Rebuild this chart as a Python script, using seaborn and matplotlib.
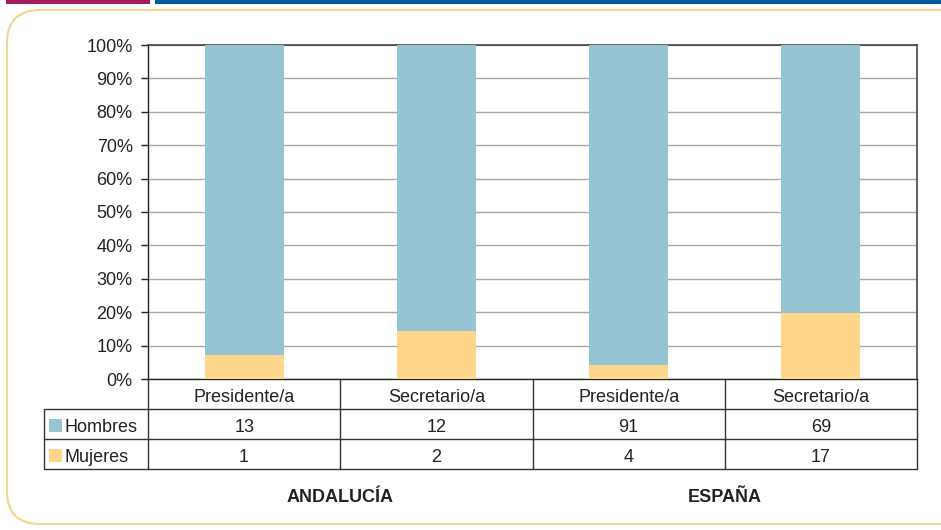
import numpy as np
import pandas as pd
import matplotlib
matplotlib.use("Agg")
import matplotlib.pyplot as plt
import seaborn as sns
from matplotlib.patches import Rectangle, FancyBboxPatch

# datos: numero de personas por puesto
puestos = ["Presidente/a", "Secretario/a", "Presidente/a", "Secretario/a"]
regiones = ["ANDALUCÍA", "ANDALUCÍA", "ESPAÑA", "ESPAÑA"]
hombres = [13, 12, 91, 69]
mujeres = [1, 2, 4, 17]

col_hombres = "#96C4D3"
col_mujeres = "#FED68C"
txt_col = "#222222"
FS = 13

sns.set_theme(style="white")
plt.rcParams["font.family"] = ["Liberation Sans", "DejaVu Sans"]

df = pd.DataFrame({"puesto": puestos, "region": regiones,
                   "hombres": hombres, "mujeres": mujeres})
df["key"] = df["region"] + " " + df["puesto"]
df["total"] = df["hombres"] + df["mujeres"]
df["pct_h"] = 100 * df["hombres"] / df["total"]
df["pct_m"] = 100 * df["mujeres"] / df["total"]
df["pct_tot"] = df["pct_h"] + df["pct_m"]

W, H = 941, 530
L, R, T, B = 148, 917, 45, 379
fig = plt.figure(figsize=(W/100, H/100), dpi=100)
ax = fig.add_axes([L/W, (H-B)/H, (R-L)/W, (B-T)/H])

# barras apiladas al 100%: total en azul, mujeres delante
sns.barplot(data=df, x="key", y="pct_tot", color=col_hombres, width=0.41,
            saturation=1, linewidth=0, ax=ax, zorder=3)
sns.barplot(data=df, x="key", y="pct_m", color=col_mujeres, width=0.41,
            saturation=1, linewidth=0, ax=ax, zorder=4)

ax.set_ylim(0, 100)
ax.set_xlim(-0.5, 3.5)
ax.set_yticks(np.arange(0, 101, 10))
ax.set_yticklabels([f"{v}%" for v in range(0, 101, 10)], fontsize=FS, color=txt_col)
ax.set_xticks([])
ax.set_xlabel("")
ax.set_ylabel("")
ax.yaxis.grid(True, color="#A8A8A8", linewidth=1)
ax.set_axisbelow(True)
ax.tick_params(axis="y", which="both", left=True, length=5, width=1, color=txt_col, pad=6)
for s in ["left", "bottom"]:
    ax.spines[s].set_color(txt_col)
    ax.spines[s].set_linewidth(1)
for s in ["top", "right"]:
    ax.spines[s].set_color("#444444")
    ax.spines[s].set_linewidth(1.2)

# tabla de datos bajo el grafico (pixeles -> coordenadas de ejes)
def ax_x(px):
    return (px - L) / (R - L)

def ax_y(py):
    return (B - py) / (B - T)

line_kw = dict(transform=ax.transAxes, color="#333333", linewidth=1, clip_on=False)
col_edges = [L + (R - L) * i / 4 for i in range(5)]
for xe in col_edges:
    ax.plot([ax_x(xe), ax_x(xe)], [ax_y(379), ax_y(469)], **line_kw)
ax.plot([ax_x(44), ax_x(44)], [ax_y(409), ax_y(469)], **line_kw)
for ye in [409, 439, 469]:
    ax.plot([ax_x(44), ax_x(R)], [ax_y(ye), ax_y(ye)], **line_kw)

txt_kw = dict(transform=ax.transAxes, va="center_baseline", fontsize=FS, color=txt_col)
centers = [(col_edges[i] + col_edges[i + 1]) / 2 for i in range(4)]
for i, cx in enumerate(centers):
    ax.text(ax_x(cx), ax_y(395), puestos[i], ha="center", **txt_kw)
    ax.text(ax_x(cx), ax_y(425), str(hombres[i]), ha="center", **txt_kw)
    ax.text(ax_x(cx), ax_y(455), str(mujeres[i]), ha="center", **txt_kw)

for i, (lab, colr) in enumerate([("Hombres", col_hombres), ("Mujeres", col_mujeres)]):
    yc = 425 + 30 * i
    ax.add_patch(Rectangle((ax_x(49), ax_y(yc + 6.5)), 13/(R - L), 13/(B - T),
                           transform=ax.transAxes, facecolor=colr, edgecolor="none",
                           clip_on=False, zorder=5))
    ax.text(ax_x(65), ax_y(yc), lab, ha="left", **txt_kw)

# etiquetas de region
fig.text(340/W, (H-495)/H, "ANDALUCÍA", ha="center", va="center_baseline",
         fontsize=FS, fontweight="bold", color=txt_col)
fig.text(725/W, (H-495)/H, "ESPAÑA", ha="center", va="center_baseline",
         fontsize=FS, fontweight="bold", color=txt_col)

# bandas superiores y marco redondeado
fig.add_artist(Rectangle((6/W, (H-4)/H), 144/W, 4/H, transform=fig.transFigure,
                         facecolor="#A51C5F", edgecolor="none"))
fig.add_artist(Rectangle((155/W, (H-4)/H), 786/W, 4/H, transform=fig.transFigure,
                         facecolor="#005B9A", edgecolor="none"))
fig.add_artist(FancyBboxPatch((7/W, 6/H), 980/W, 514/H,
                              boxstyle="round,pad=0,rounding_size=0.035",
                              transform=fig.transFigure, facecolor="none",
                              edgecolor="#F8D38E", linewidth=1.5,
                              mutation_aspect=W/H))

fig.savefig("out.png", dpi=100)
